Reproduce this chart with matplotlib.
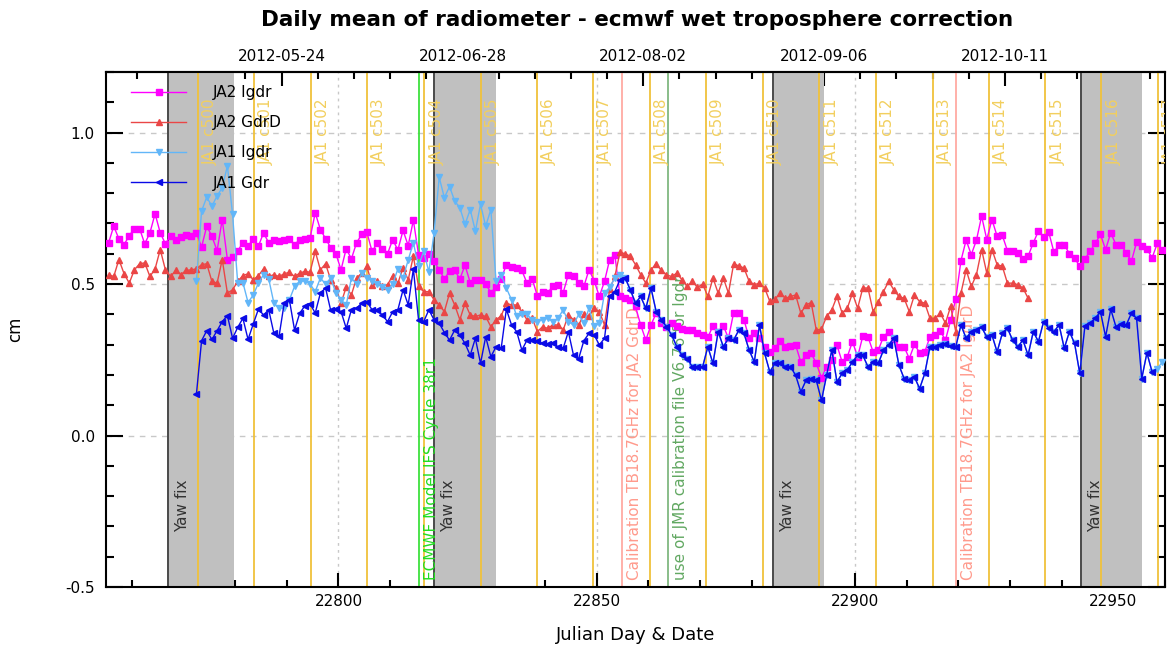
"""
Daily mean of radiometer - ecmwf wet troposphere correction
JA2 / JA1 monitoring plot, Julian day (CNES) on the bottom axis, date on top.
Output : out.png
"""

import numpy as np
import matplotlib
matplotlib.use("Agg")
import matplotlib.pyplot as plt
from matplotlib.ticker import MultipleLocator, FixedLocator

plt.rcParams["font.family"] = ["DejaVu Sans"]
plt.rcParams["axes.unicode_minus"] = False

# =============================================================================
# data (daily means, cm) - first day of each list, then one value per day
# =============================================================================
JA2_IGDR_FIRST = 22755
JA2_IGDR = [
    0.636, 0.691, 0.649, 0.630, 0.660, 0.683, 0.683, 0.633, 0.669, 0.732,
    0.669, 0.633, 0.660, 0.644, 0.655, 0.663, 0.660, 0.669, 0.622, 0.691,
    0.658, 0.610, 0.713, 0.581, 0.588, 0.610, 0.636, 0.625, 0.649, 0.625,
    0.669, 0.636, 0.644, 0.641, 0.644, 0.649, 0.630, 0.647, 0.649, 0.652,
    0.735, 0.680, 0.650, 0.620, 0.600, 0.547, 0.617,
    0.583, 0.636, 0.664, 0.671, 0.608, 0.634, 0.617, 0.600, 0.647, 0.612,
    0.677, 0.627, 0.711, 0.597, 0.587, 0.600, 0.575, 0.547, 0.517, 0.542,
    0.545, 0.517, 0.562, 0.505, 0.514, 0.514, 0.500, 0.472, 0.489, 0.517,
    0.564, 0.556, 0.553, 0.545, 0.503, 0.517, 0.461, 0.475, 0.472, 0.492,
    0.497, 0.472, 0.531, 0.528, 0.503, 0.492, 0.547, 0.511, 0.459, 0.509,
    0.581, 0.597,
    0.460, 0.453, 0.448, 0.426, 0.365, 0.315, 0.365, 0.404, 0.373, 0.359,
    0.373, 0.362, 0.351, 0.350, 0.348, 0.337, 0.332, 0.324, 0.362, 0.343,
    0.362, 0.321, 0.406, 0.406, 0.382, 0.321, 0.337, 0.321, 0.293, 0.276,
    0.288, 0.313, 0.293, 0.296, 0.298, 0.243, 0.265, 0.271, 0.239, 0.190,
    0.227, 0.250, 0.298, 0.243, 0.260, 0.310, 0.260, 0.328, 0.326, 0.276,
    0.282, 0.326, 0.343, 0.320, 0.293, 0.293, 0.254, 0.301, 0.273, 0.276,
    0.326, 0.331, 0.345, 0.315, 0.380, 0.451, 0.577, 0.645, 0.597, 0.645,
    0.724, 0.647, 0.713, 0.658, 0.661, 0.610, 0.608, 0.603, 0.583, 0.592,
    0.636, 0.675, 0.656, 0.671, 0.605, 0.630, 0.630, 0.600, 0.586, 0.558,
    0.583, 0.608, 0.634, 0.664, 0.614, 0.669, 0.630, 0.630, 0.603, 0.575,
    0.638, 0.625, 0.616, 0.586, 0.634, 0.614,
]

JA2_GDRD_FIRST = 22755
JA2_GDRD = [
    0.531, 0.525, 0.581, 0.534, 0.503, 0.547, 0.567, 0.570, 0.525, 0.550,
    0.614, 0.547, 0.525, 0.545, 0.531, 0.545, 0.547, 0.550, 0.564, 0.567,
    0.509, 0.503, 0.581, 0.470, 0.481, 0.509, 0.528, 0.534, 0.514, 0.528,
    0.550, 0.525, 0.531, 0.525, 0.534, 0.539, 0.525, 0.536, 0.542, 0.539,
    0.608, 0.547, 0.567, 0.514, 0.487, 0.437, 0.490,
    0.464, 0.520, 0.536, 0.558, 0.498, 0.509, 0.492, 0.498, 0.528, 0.503,
    0.553, 0.514, 0.592, 0.492, 0.475, 0.475, 0.448, 0.431, 0.409, 0.470,
    0.431, 0.382, 0.437, 0.398, 0.393, 0.398, 0.393, 0.359, 0.382, 0.395,
    0.437, 0.431, 0.431, 0.409, 0.382, 0.387, 0.343, 0.359, 0.354, 0.365,
    0.365, 0.348, 0.398, 0.382, 0.365,
    0.400, 0.393, 0.420, 0.409, 0.365, 0.483, 0.525,
    0.605, 0.600, 0.592, 0.564, 0.531, 0.503, 0.547, 0.567, 0.545, 0.530,
    0.525, 0.536, 0.514, 0.492, 0.509, 0.489, 0.500, 0.459, 0.520, 0.470,
    0.520, 0.470, 0.567, 0.560, 0.553, 0.509, 0.498, 0.503, 0.487, 0.443,
    0.450, 0.470, 0.453, 0.459, 0.464, 0.404, 0.431, 0.439, 0.348, 0.351,
    0.393, 0.415, 0.459, 0.404, 0.420, 0.470, 0.420, 0.487, 0.487, 0.409,
    0.442, 0.475, 0.509, 0.481, 0.459, 0.453, 0.409, 0.464, 0.442, 0.437,
    0.387, 0.387, 0.404, 0.371, 0.426, 0.343, 0.470, 0.547, 0.492, 0.531,
    0.614, 0.536, 0.614, 0.564, 0.559, 0.503, 0.503, 0.498, 0.487, 0.453,
]

JA1_GDR_FIRST = 22772
JA1_GDR = [
    0.136, 0.313, 0.346, 0.317, 0.346, 0.376, 0.396, 0.321, 0.357, 0.387,
    0.317, 0.368, 0.417, 0.398, 0.415, 0.337, 0.328, 0.437, 0.448, 0.348,
    0.404, 0.428, 0.435, 0.404, 0.470, 0.487, 0.413, 0.417, 0.409, 0.354,
    0.415, 0.420, 0.437, 0.442, 0.415, 0.413, 0.398, 0.376, 0.409, 0.415,
    0.481, 0.431, 0.550, 0.382, 0.376, 0.415, 0.382, 0.371, 0.340, 0.315,
    0.348, 0.332, 0.304, 0.265, 0.321, 0.238, 0.326, 0.260, 0.293, 0.288,
    0.417, 0.365, 0.343, 0.282, 0.315, 0.315, 0.313, 0.304, 0.302, 0.304,
    0.293, 0.288, 0.343, 0.265, 0.254, 0.313, 0.337, 0.332, 0.299, 0.321,
    0.459, 0.475, 0.514, 0.520, 0.481, 0.437, 0.459, 0.420, 0.487, 0.409,
    0.382, 0.359, 0.332, 0.293, 0.265, 0.254, 0.227, 0.227, 0.227, 0.293,
    0.238, 0.343, 0.293, 0.321, 0.315, 0.348, 0.337, 0.282, 0.243, 0.365,
    0.271, 0.210, 0.238, 0.238, 0.227, 0.227, 0.199, 0.144, 0.182, 0.188,
    0.182, 0.116, 0.199, 0.282, 0.177, 0.205, 0.216, 0.243, 0.265, 0.265,
    0.227, 0.243, 0.238, 0.282, 0.299, 0.321, 0.232, 0.188, 0.182, 0.193,
    0.155, 0.205, 0.293, 0.293, 0.299, 0.302, 0.296, 0.293, 0.365, 0.321,
    0.343, 0.348, 0.357, 0.326, 0.332, 0.276, 0.337, 0.354, 0.315, 0.293,
    0.315, 0.265, 0.343, 0.310, 0.376, 0.354, 0.343, 0.365, 0.288, 0.343,
    0.304, 0.205, 0.362, 0.371, 0.387, 0.409, 0.326, 0.417, 0.359, 0.368,
    0.365, 0.404, 0.387, 0.188, 0.273, 0.210,
]

# JA1 Igdr: own values up to 22854, then it lies exactly under JA1 Gdr,
# and runs two days past the end of JA1 Gdr.
JA1_IGDR_FIRST = 22772
JA1_IGDR_HEAD = [
    0.509, 0.741, 0.787, 0.757, 0.791, 0.818, 0.890, 0.730, 0.503, 0.505,
    0.439, 0.464, 0.503, 0.531, 0.517, 0.437, 0.420, 0.420, 0.448, 0.492,
    0.510, 0.510, 0.500, 0.475, 0.520, 0.500, 0.520, 0.470, 0.448, 0.430,
    0.520, 0.500, 0.535, 0.520, 0.510, 0.500, 0.490, 0.480, 0.500, 0.550,
    0.520, 0.580, 0.636, 0.560, 0.608, 0.540, 0.669, 0.852, 0.785, 0.822,
    0.774, 0.752, 0.697, 0.746, 0.675, 0.763, 0.691, 0.746, 0.510, 0.530,
    0.487, 0.448, 0.393, 0.400, 0.400, 0.382, 0.376, 0.382, 0.387, 0.376,
    0.387, 0.415, 0.376, 0.365, 0.400, 0.370, 0.420, 0.360, 0.370, 0.470,
    0.490, 0.520, 0.530,
]
JA1_IGDR_TAIL = [0.221, 0.243]

# events
YAW_FIX = [(22767.05, 22779.8), (22818.5, 22830.5),
           (22884.1, 22894.05), (22943.8, 22955.6)]
JA1_CYCLE_DAYS = [22772.75, 22783.65, 22794.6, 22805.5, 22816.6, 22827.5,
                  22838.4, 22849.2, 22860.3, 22871.1, 22882.1, 22893.1,
                  22904.05, 22915.0, 22925.9, 22936.8, 22947.7, 22958.6]
JA1_CYCLE_NAMES = ["JA1 c%d" % c for c in range(500, 518)]
NOTES = [
    (22815.65, "ECMWF Model IFS Cycle 38r1", "#3ee03e", "#22dd22"),
    (22854.8, "Calibration TB18.7GHz for JA2 GdrD", "#ffaaa2", "#ff9a8c"),
    (22863.7, "use of JMR calibration file V6.76 for Igdr", "#80b880", "#62a862"),
    (22919.45, "Calibration TB18.7GHz for JA2 IgdrD", "#ffaaa2", "#ff9a8c"),
]

TOP_DAYS = [22789, 22824, 22859, 22894, 22929]
TOP_LABELS = ["2012-05-24", "2012-06-28", "2012-08-02", "2012-09-06", "2012-10-11"]

MAGENTA = "#ff00ff"
RED = "#ea4646"
LIGHTBLUE = "#62b6f8"
BLUE = "#0a0ae6"
CYCLE_LINE = "#f0c23c"
CYCLE_TEXT = "#f2cf5e"


def draw_events(ax):
    for start, end in YAW_FIX:
        ax.axvspan(start, end, facecolor="#c0c0c0", edgecolor="none", zorder=1)
        ax.axvline(start, color="#4a4a4a", lw=1.4, zorder=1.5)
        ax.text(start + 1.4, -0.318, "Yaw fix", rotation=90, ha="left",
                va="bottom", fontsize=11, color="#333333", zorder=3)
    for day, name in zip(JA1_CYCLE_DAYS, JA1_CYCLE_NAMES):
        ax.axvline(day, color=CYCLE_LINE, lw=1.3, zorder=2)
        ax.text(day + 1.0, 1.113, name, rotation=90, ha="left", va="top",
                fontsize=11, color=CYCLE_TEXT, zorder=3, clip_on=True)
    for day, text, line_c, text_c in NOTES:
        ax.axvline(day, color=line_c, lw=1.3, zorder=2)
        ax.text(day + 1.0, -0.478, text, rotation=90, ha="left", va="bottom",
                fontsize=11, color=text_c, zorder=3)


def draw_series(ax):
    def days(first, vals):
        return first + np.arange(len(vals)) + 0.5

    ax.plot(days(JA2_IGDR_FIRST, JA2_IGDR), JA2_IGDR, color=MAGENTA, lw=1.0,
            marker="s", ms=4.4, label="JA2 Igdr", zorder=4)
    ax.plot(days(JA2_GDRD_FIRST, JA2_GDRD), JA2_GDRD, color=RED, lw=1.0,
            marker="^", ms=3.8, label="JA2 GdrD", zorder=4)
    shared = JA1_GDR[len(JA1_IGDR_HEAD):]
    igdr = JA1_IGDR_HEAD + shared + JA1_IGDR_TAIL
    ax.plot(days(JA1_IGDR_FIRST, igdr), igdr, color=LIGHTBLUE, lw=1.0,
            marker="v", ms=4.2, label="JA1 Igdr", zorder=4)
    ax.plot(days(JA1_GDR_FIRST, JA1_GDR), JA1_GDR, color=BLUE, lw=1.0,
            marker="<", ms=4.0, label="JA1 Gdr", zorder=4)


def style_axes(ax):
    ax.set_xlim(22755, 22960)
    ax.set_ylim(-0.5, 1.2)
    ax.xaxis.set_major_locator(MultipleLocator(50))
    ax.xaxis.set_minor_locator(MultipleLocator(10))
    ax.yaxis.set_major_locator(MultipleLocator(0.5))
    ax.yaxis.set_minor_locator(MultipleLocator(0.1))
    ax.yaxis.set_major_formatter(plt.FormatStrFormatter("%.1f"))
    ax.set_axisbelow(True)
    ax.grid(axis="y", which="major", color="#c8c8c8", ls=(0, (4, 4)), lw=1.0)
    ax.grid(axis="x", which="major", color="#c8c8c8", ls=(0, (2, 3)), lw=1.0)

    ax.tick_params(axis="both", which="both", direction="in", top=False,
                   right=True, width=1.5, labelsize=11, colors="black")
    ax.tick_params(axis="x", which="major", length=10, pad=5)
    ax.tick_params(axis="x", which="minor", length=5)
    ax.tick_params(axis="y", which="major", length=12, pad=8)
    ax.tick_params(axis="y", which="minor", length=6)
    for sp in ax.spines.values():
        sp.set_linewidth(1.5)

    top = ax.secondary_xaxis("top")
    top.set_xticks(TOP_DAYS, labels=TOP_LABELS)
    top.xaxis.set_minor_locator(FixedLocator(np.arange(22761, 22961, 7)))
    top.tick_params(which="both", direction="in", width=1.5, labelsize=11)
    top.tick_params(which="major", length=10, pad=6)
    top.tick_params(which="minor", length=5)
    top.spines["top"].set_linewidth(1.5)

    ax.set_xlabel("Julian Day & Date", fontsize=13)
    ax.xaxis.set_label_coords(0.5, -0.076)
    ax.set_ylabel("cm", fontsize=12)
    ax.yaxis.set_label_coords(-0.077, 0.5)

    leg = ax.legend(loc="upper left", bbox_to_anchor=(0.024, 0.975),
                    frameon=False, fontsize=11, handlelength=3.6,
                    handletextpad=1.7, labelspacing=1.0, borderpad=0,
                    borderaxespad=0, numpoints=1)
    leg.set_zorder(6)


def main():
    fig = plt.figure(figsize=(11.68, 6.51), dpi=100)
    ax = fig.add_axes([106 / 1168, 1 - 587 / 651, 1059 / 1168, 515 / 651])
    draw_events(ax)
    draw_series(ax)
    style_axes(ax)
    fig.text(637 / 1168, 1 - 20 / 651,
             "Daily mean of radiometer - ecmwf wet troposphere correction",
             ha="center", va="center", fontsize=15.5, fontweight="bold")
    fig.savefig("out.png", dpi=100)
    plt.close(fig)


if __name__ == "__main__":
    main()
